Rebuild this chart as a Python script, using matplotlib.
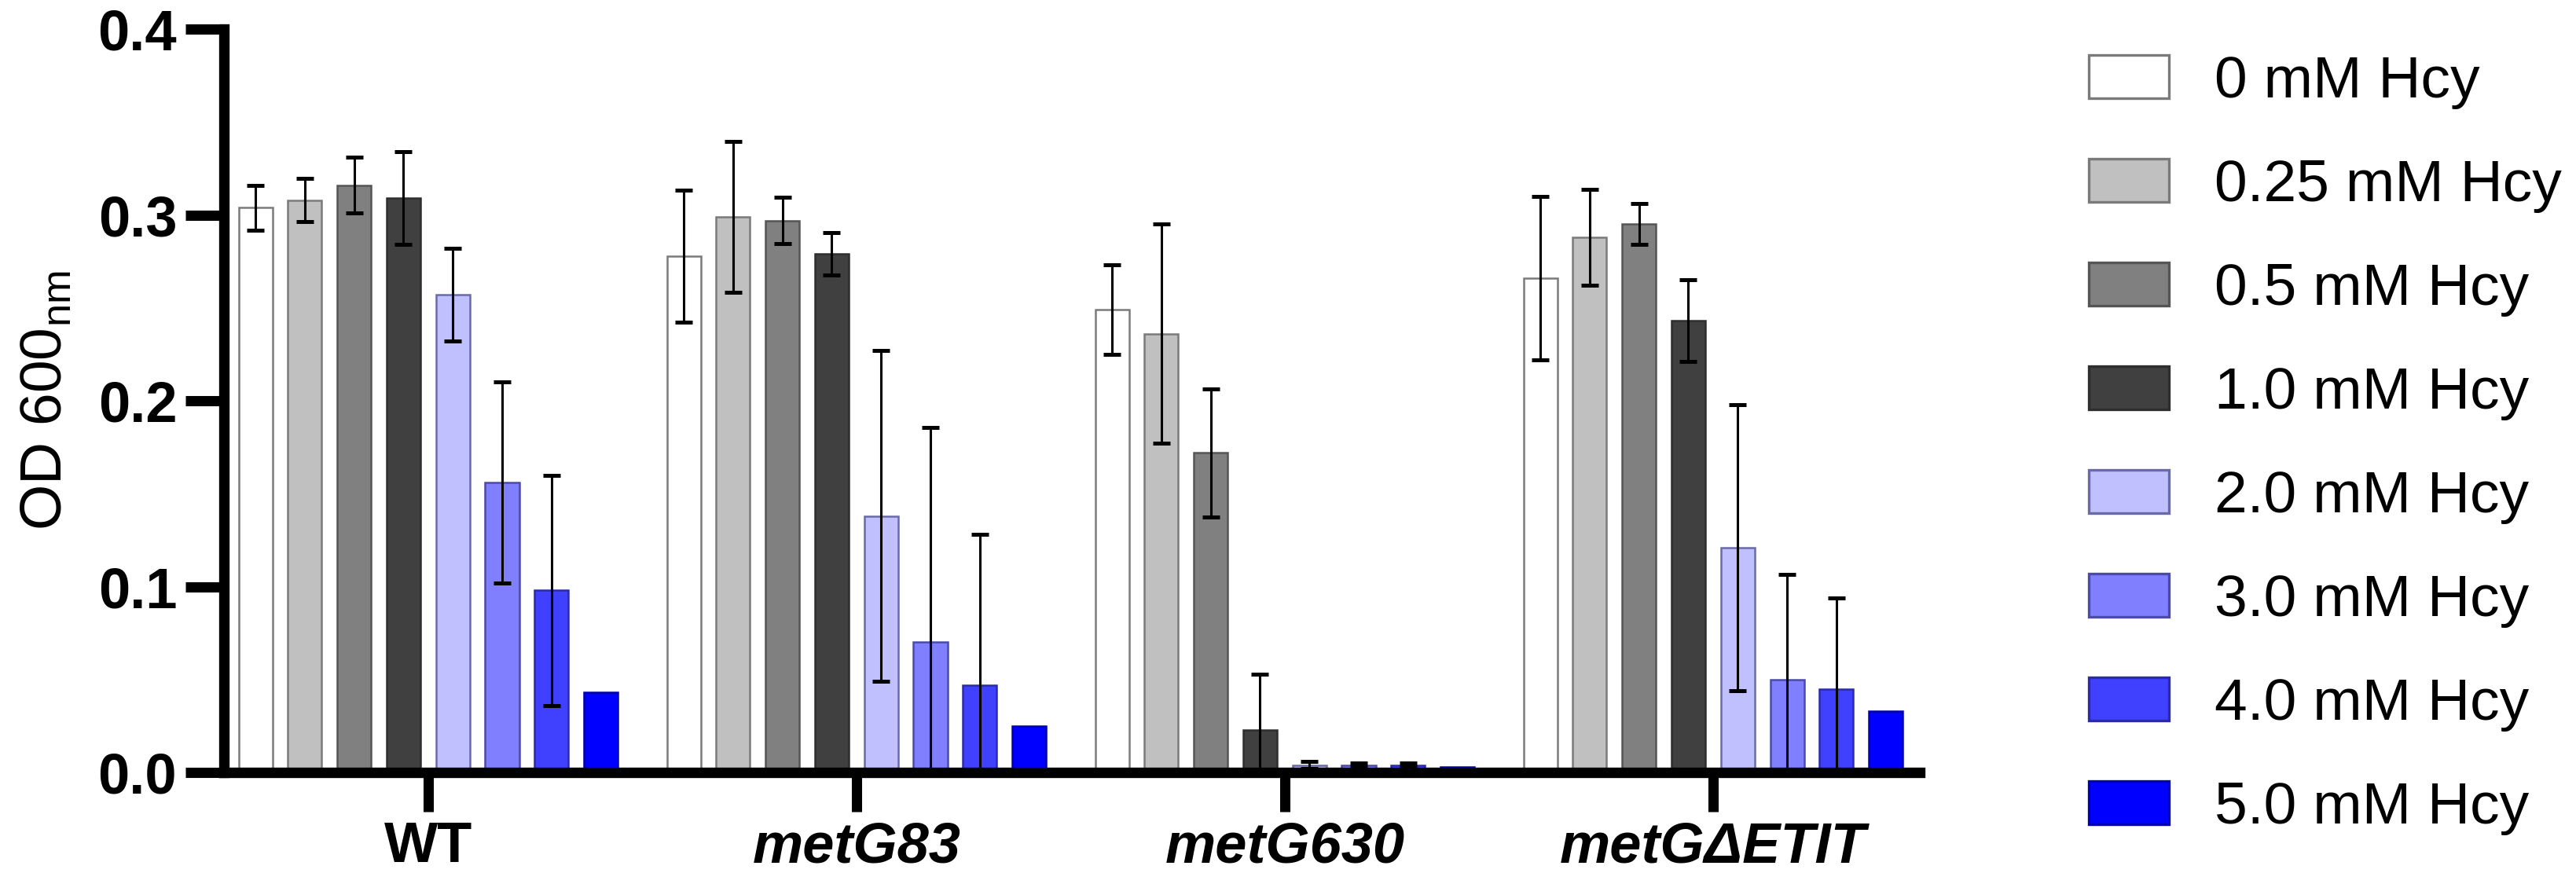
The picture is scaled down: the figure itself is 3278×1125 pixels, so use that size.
import numpy as np
import matplotlib
matplotlib.use("Agg")
import matplotlib.pyplot as plt
from matplotlib.patches import Patch

plt.rcParams['font.family'] = ['Liberation Sans', 'DejaVu Sans']
plt.rcParams['mathtext.fontset'] = 'custom'
plt.rcParams['mathtext.rm'] = 'Liberation Sans'

strains = ['WT', 'metG83', 'metG630', 'metGΔETIT']
conc_labels = ['0 mM Hcy', '0.25 mM Hcy', '0.5 mM Hcy', '1.0 mM Hcy',
               '2.0 mM Hcy', '3.0 mM Hcy', '4.0 mM Hcy', '5.0 mM Hcy']

# rows: strains, columns: Hcy concentration
means = [
    [0.304, 0.308, 0.316, 0.309, 0.257, 0.156, 0.098, 0.043],
    [0.278, 0.299, 0.297, 0.279, 0.138, 0.070, 0.047, 0.025],
    [0.249, 0.236, 0.172, 0.023, 0.004, 0.004, 0.004, 0.003],
    [0.266, 0.288, 0.295, 0.243, 0.121, 0.050, 0.045, 0.033],
]
errors = [
    [0.012, 0.0115, 0.015, 0.025, 0.025, 0.054, 0.062, np.nan],
    [0.0355, 0.0405, 0.0125, 0.0115, 0.089, 0.1155, 0.081, np.nan],
    [0.024, 0.059, 0.0345, 0.030, 0.002, 0.001, 0.001, np.nan],
    [0.044, 0.0257, 0.011, 0.022, 0.077, 0.0565, 0.049, np.nan],
]

face_colors = ['#FFFFFF', '#C0C0C0', '#808080', '#404040',
               '#C0C0FF', '#8080FF', '#4040FF', '#0000FF']
edge_colors = ['#7A7A7A', '#7A7A7A', '#555555', '#2E2E2E',
               '#6A6AA8', '#4A4AAA', '#2A2AAA', '#0000B0']

means = np.array(means)
errors = np.array(errors)

fig = plt.figure(figsize=(16.39, 5.625), dpi=200)
ax = fig.add_axes([0.0869, 0.1262, 0.7453 - 0.0869, 0.9670 - 0.1262])

x = np.arange(len(strains))
pitch = 0.1152
width = 0.079
n = len(conc_labels)
for j in range(n):
    xs = x + (j - (n - 1) / 2) * pitch
    ax.bar(xs, means[:, j], width=width, color=face_colors[j],
           edgecolor=edge_colors[j], linewidth=0.9, zorder=2)
    m = ~np.isnan(errors[:, j])
    ax.errorbar(xs[m], means[m, j], yerr=errors[m, j], fmt='none',
                ecolor='black', elinewidth=1.1, capsize=3.8, capthick=1.8,
                zorder=3)

ax.set_xlim(-0.477, 3.483)
ax.set_ylim(0, 0.4)
ax.set_yticks([0.0, 0.1, 0.2, 0.3, 0.4])
ax.set_yticklabels(['0.0', '0.1', '0.2', '0.3', '0.4'])
ax.set_xticks(x)
ax.set_xticklabels(strains)
for lab in ax.get_yticklabels():
    lab.set_fontweight('bold')
    lab.set_fontsize(26)
for i, lab in enumerate(ax.get_xticklabels()):
    lab.set_fontweight('bold')
    lab.set_fontsize(26)
    if i > 0:
        lab.set_fontstyle('italic')

for s in ['top', 'right']:
    ax.spines[s].set_visible(False)
for s in ['left', 'bottom']:
    ax.spines[s].set_linewidth(4.8)
ax.tick_params(axis='y', length=17.5, width=4.7, pad=4)
ax.tick_params(axis='x', length=18, width=4.7, pad=4)

ax.set_ylabel('OD 600$_\\mathregular{nm}$', fontsize=27)
ax.yaxis.set_label_coords(-0.0885, 0.5)

handles = [Patch(facecolor=face_colors[j], edgecolor=edge_colors[j],
                 linewidth=1.2) for j in range(n)]
fig.legend(handles, conc_labels, loc='upper left',
           bbox_to_anchor=(0.8109, 0.938), frameon=False, fontsize=27,
           handlelength=1.36, handleheight=0.76, handletextpad=0.77,
           labelspacing=0.84, borderpad=0, borderaxespad=0)

fig.savefig('out.png', dpi=200)
